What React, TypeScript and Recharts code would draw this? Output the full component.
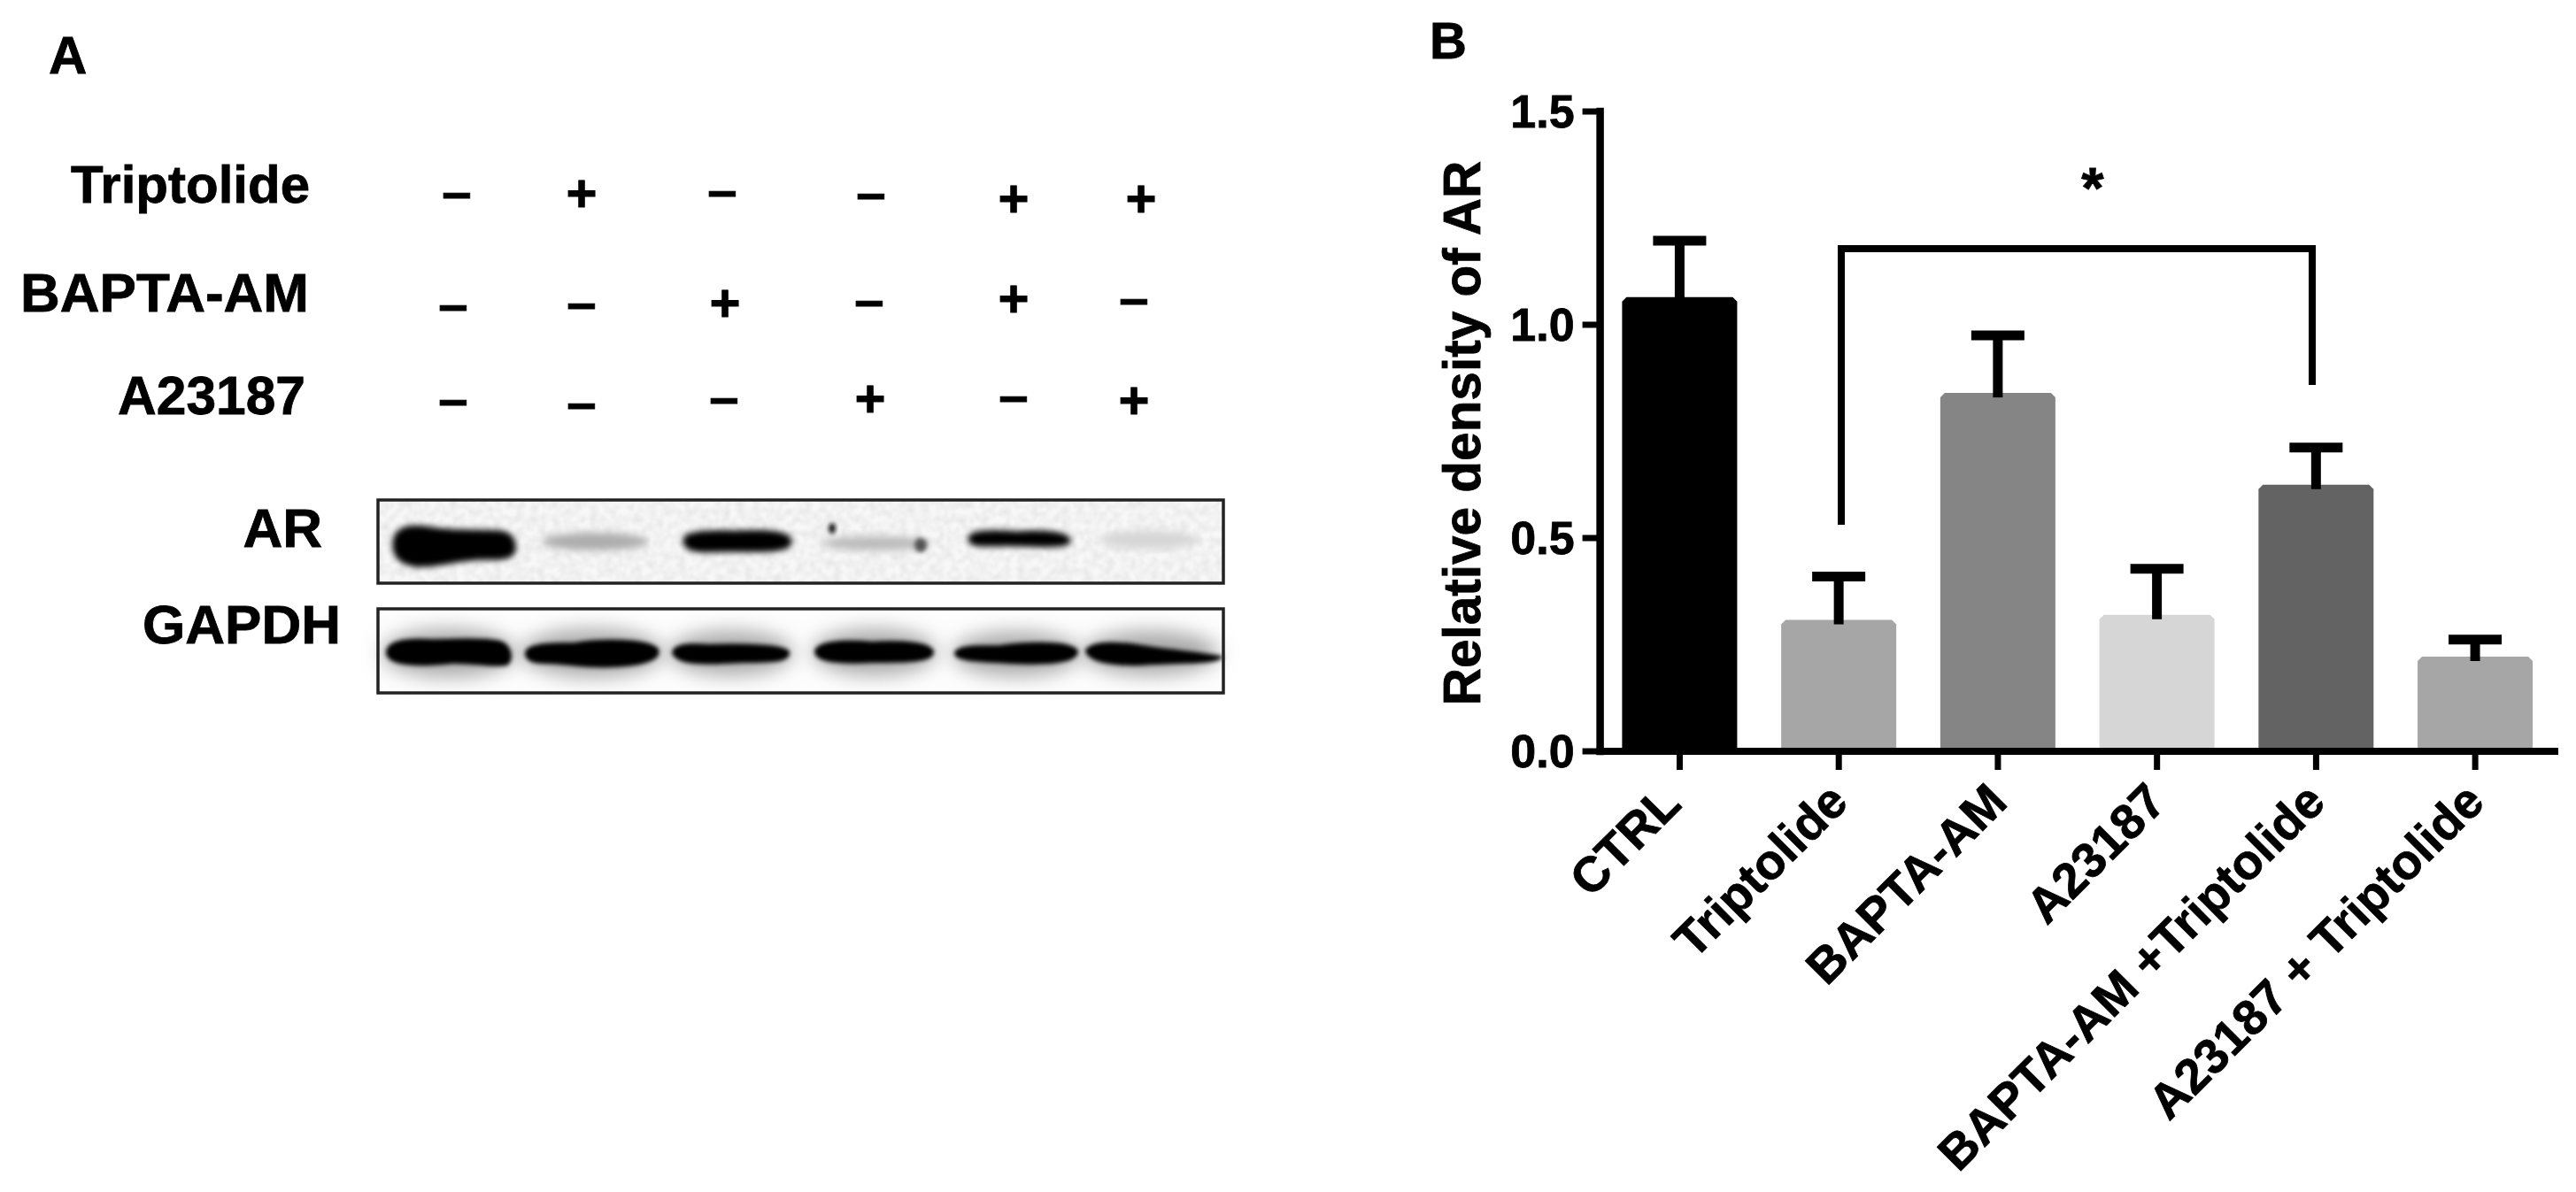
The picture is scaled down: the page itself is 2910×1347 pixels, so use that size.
import React from "react";
import { BarChart, Bar, XAxis, YAxis } from "recharts";

const categories = ["CTRL", "Triptolide", "BAPTA-AM", "A23187", "BAPTA-AM +Triptolide", "A23187 + Triptolide"];
const means = [1.065, 0.308, 0.84, 0.32, 0.625, 0.222];
const errorTops = [1.197, 0.41, 0.975, 0.428, 0.712, 0.262];
const barColors = ["#000000", "#a6a6a6", "#858585", "#d6d6d6", "#636363", "#a6a6a6"];
const yTicks = [0, 0.5, 1, 1.5];

const treatmentRows = ["Triptolide", "BAPTA-AM", "A23187"];
const rowSigns = [
  ["–", "+", "–", "–", "+", "+"],
  ["–", "–", "+", "–", "+", "–"],
  ["–", "–", "–", "+", "–", "+"],
];

const tableData = categories.map((name, i) => ({ name, mean: means[i], top: errorTops[i] }));
const FONT = "'Liberation Sans', Arial, sans-serif";

function BarWithError(props: any) {
  const { x, y, width, height, index, payload } = props;
  const bottom = y + height;
  const pxPerUnit = height / payload.mean;
  const capY = bottom - payload.top * pxPerUnit;
  const cx = x + width / 2;
  const c = 5;
  return (
    <g>
      <path
        d={`M${x} ${bottom - 3} L${x} ${y + c} L${x + c} ${y} L${x + width - c} ${y} L${x + width} ${y + c} L${x + width} ${bottom - 3} Z`}
        fill={barColors[index]}
      />
      <line x1={cx} x2={cx} y1={capY} y2={y + 5} stroke="#000" strokeWidth={11} />
      <line x1={cx - 30} x2={cx + 30} y1={capY} y2={capY} stroke="#000" strokeWidth={11} />
    </g>
  );
}

function AngledTick(props: any) {
  const { x, y, payload, index } = props;
  const tx = x + (index === 0 ? 4 : 13);
  const ty = y + (index === 0 ? 19 : 17);
  return (
    <text
      x={tx}
      y={ty}
      transform={`rotate(-45 ${tx} ${ty})`}
      textAnchor="end"
      fontFamily={FONT}
      fontWeight="bold"
      fontSize={55.5}
      stroke="#000"
      strokeWidth={0.8}
      fill="#000"
    >
      {payload.value}
    </text>
  );
}

const rowBaselines = [229, 352, 468];
const rowLabelRight = [350, 349, 345];
const rowFontSizes = [60, 62, 60.5];
const signX = [
  [516, 657, 816, 984, 1145, 1289],
  [512, 657, 819, 982, 1145, 1281],
  [512, 657, 818, 983, 1145, 1281],
];
const signY = [
  [221, 219, 219, 222, 225, 225],
  [348, 346, 343, 343, 338, 341],
  [455, 459, 453, 451, 451, 453],
];

function Annotations() {
  const t = { fontFamily: FONT, fontWeight: "bold" as const, fill: "#000", stroke: "#000", strokeWidth: 0.8 };
  return (
    <svg width={2910} height={1347} style={{ position: "absolute", left: 0, top: 0 }}>
      <defs>
        <filter id="noise" x="0" y="0" width="100%" height="100%">
          <feTurbulence type="fractalNoise" baseFrequency="0.12" numOctaves={2} seed={4} />
          <feColorMatrix
            type="matrix"
            values="0 0 0 0 0.5  0 0 0 0 0.5  0 0 0 0 0.5  0.55 0 0 0 -0.17"
          />
          <feGaussianBlur stdDeviation="1" />
        </filter>
        <filter id="edge" x="-20%" y="-60%" width="140%" height="220%">
          <feGaussianBlur stdDeviation="3.5" />
        </filter>
        <filter id="soft" x="-20%" y="-80%" width="140%" height="260%">
          <feGaussianBlur stdDeviation="2.5" />
        </filter>
        <filter id="faint" x="-20%" y="-150%" width="140%" height="400%">
          <feGaussianBlur stdDeviation="4" />
        </filter>
        <filter id="halo" x="-30%" y="-150%" width="160%" height="400%">
          <feGaussianBlur stdDeviation="11" />
        </filter>
      </defs>

      <text x={55} y={83} fontSize={60} {...t}>A</text>
      <text x={1615} y={66} fontSize={58} {...t}>B</text>

      {treatmentRows.map((label, r) => (
        <text key={label} x={rowLabelRight[r]} y={rowBaselines[r]} fontSize={rowFontSizes[r]} textAnchor="end" {...t}>
          {label}
        </text>
      ))}
      {rowSigns.map((row, r) =>
        row.map((s, c) => (
          <text
            key={`${r}-${c}`}
            x={signX[r][c]}
            y={signY[r][c] + (s === "+" ? 20 : 16)}
            fontSize={60}
            textAnchor="middle"
            {...t}
          >
            {s}
          </text>
        ))
      )}

      <text x={364} y={618} fontSize={62} textAnchor="end" {...t}>AR</text>
      <text x={385} y={727} fontSize={62} textAnchor="end" {...t}>GAPDH</text>

      {/* AR blot */}
      <rect x={427} y={565} width={955} height={94} fill="#f8f8f8" />
      <rect x={427} y={565} width={955} height={94} filter="url(#noise)" />
      <g filter="url(#edge)" fill="#000" stroke="#000" strokeWidth={5}>
        <path d="M446 618 C444 600 458 594 480 597 C510 603 540 600 565 602 C578 604 581 612 580 622 C578 630 565 631 545 630 C515 631 490 640 470 638 C455 636 447 630 446 618 Z" />
        <path d="M774 612 C772 604 790 601 830 602 C870 600 892 603 892 612 C892 621 870 622 830 621 C795 622 776 624 774 612 Z" />
        <path d="M1096 610 C1094 602 1115 600 1150 603 C1180 600 1207 604 1207 611 C1207 617 1180 616 1150 615 C1120 614 1098 618 1096 610 Z" />
      </g>
      <g filter="url(#faint)">
        <ellipse cx={672} cy={612} rx={60} ry={10} fill="#adadad" />
        <ellipse cx={990} cy={614} rx={62} ry={8} fill="#bcbcbc" />
        <ellipse cx={1298} cy={610} rx={56} ry={10} fill="#d6d6d6" />
      </g>
      <g filter="url(#soft)">
        <ellipse cx={1040} cy={616} rx={7} ry={8} fill="#555" />
        <ellipse cx={940} cy={597} rx={4} ry={6} fill="#111" />
      </g>
      <rect x={427} y={565} width={955} height={94} fill="none" stroke="#222" strokeWidth={3.5} />

      {/* GAPDH blot */}
      <rect x={427} y={688} width={955} height={95} fill="#fdfdfd" />
      <g transform="translate(0 1)">
        <g filter="url(#halo)" fill="#a8a8a8">
          <ellipse cx={507} cy={737} rx={76} ry={27} />
          <ellipse cx={669} cy={737} rx={80} ry={27} />
          <ellipse cx={826} cy={737} rx={70} ry={25} />
          <ellipse cx={988} cy={736} rx={70} ry={26} />
          <ellipse cx={1148} cy={738} rx={72} ry={25} />
          <ellipse cx={1300} cy={737} rx={76} ry={25} />
        </g>
        <g filter="url(#soft)" fill="#000" stroke="#000" strokeWidth={4}>
          <path d="M438 737 C438 726 455 722 480 723 C510 724 540 720 565 725 C578 730 578 746 572 749 C555 752 535 746 510 747 C485 750 440 752 438 737 Z" />
          <path d="M595 737 C596 728 620 727 650 727 C680 722 730 722 742 733 C746 742 730 750 690 751 C660 753 640 747 615 747 C600 747 595 743 595 737 Z" />
          <path d="M761 737 C762 729 775 727 800 729 C830 728 885 728 890 736 C891 745 875 746 840 746 C810 747 770 752 761 737 Z" />
          <path d="M922 735 C924 726 950 723 985 726 C1015 724 1052 726 1053 736 C1053 746 1020 746 985 746 C950 748 922 746 922 735 Z" />
          <path d="M1080 737 C1082 730 1100 730 1130 730 C1160 726 1210 724 1216 735 C1216 747 1180 749 1140 747 C1110 745 1080 745 1080 737 Z" />
          <path d="M1228 734 C1236 724 1265 726 1290 730 C1320 735 1360 738 1378 742 C1370 748 1330 746 1290 749 C1255 750 1230 745 1228 734 Z" />
        </g>
      </g>
      <rect x={427} y={688} width={955} height={95} fill="none" stroke="#222" strokeWidth={3.5} />

      {/* significance bracket */}
      <path d="M2080 593 V281 H2612 V435" fill="none" stroke="#000" strokeWidth={8} />
      <text x={2364} y={235} fontSize={65} textAnchor="middle" {...t}>*</text>
    </svg>
  );
}

export default function App() {
  return (
    <div style={{ position: "absolute", left: 0, top: 0, width: 2910, height: 1347, overflow: "hidden", background: "#fff" }}>
      <div style={{ position: "absolute", left: 0, top: 0 }}>
        <BarChart
          width={2910}
          height={1347}
          data={tableData}
          margin={{ top: 126, right: 24, bottom: 247, left: 1637.6 }}
          barCategoryGap="13.8%"
        >
          <XAxis
            dataKey="name"
            height={251}
            interval={0}
            axisLine={{ stroke: "#000", strokeWidth: 8, strokeLinecap: "square" }}
            tickLine={{ stroke: "#000", strokeWidth: 7 }}
            tickSize={21}
            tickMargin={22}
            tick={AngledTick}
          />
          <YAxis
            width={170}
            domain={[0, 1.5]}
            ticks={yTicks}
            interval={0}
            tickFormatter={(v: number) => v.toFixed(1)}
            axisLine={{ stroke: "#000", strokeWidth: 8.5, strokeLinecap: "square" }}
            tickLine={{ stroke: "#000", strokeWidth: 7 }}
            tickSize={20}
            tickMargin={9}
            tick={{ fill: "#000", stroke: "#000", strokeWidth: 0.8, fontFamily: FONT, fontWeight: "bold", fontSize: 52 }}
            label={{
              value: "Relative density of AR",
              angle: -90,
              position: "insideLeft",
              offset: 14,
              dy: 2,
              style: { textAnchor: "middle", fill: "#000", stroke: "#000", strokeWidth: 0.8, fontFamily: FONT, fontWeight: "bold", fontSize: 58.5 },
            }}
          />
          <Bar dataKey="mean" shape={BarWithError} isAnimationActive={false} />
        </BarChart>
      </div>
      <Annotations />
    </div>
  );
}
